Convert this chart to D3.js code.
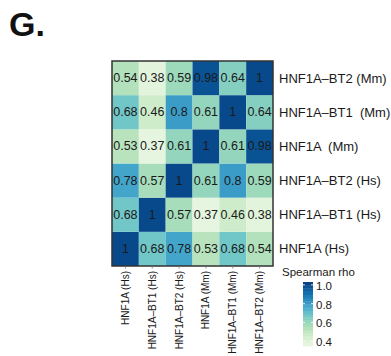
<!DOCTYPE html>
<html>
<head>
<meta charset="utf-8">
<script src="https://cdn.jsdelivr.net/npm/d3@7"></script>
<style>
  html, body { margin: 0; padding: 0; background: #fff; }
  svg { display: block; font-family: "Liberation Sans", Arial, sans-serif; }
</style>
</head>
<body>
<svg id="chart" width="391" height="356"></svg>
<script>
// Sample labels (same order on both axes; rows drawn bottom-to-top)
const colLabels = ["HNF1A (Hs)", "HNF1A\u2013BT1 (Hs)", "HNF1A\u2013BT2 (Hs)", "HNF1A (Mm)", "HNF1A\u2013BT1 (Mm)", "HNF1A\u2013BT2 (Mm)"];
const rowLabels = ["HNF1A (Hs)", "HNF1A\u2013BT1 (Hs)", "HNF1A\u2013BT2 (Hs)", "HNF1A  (Mm)", "HNF1A\u2013BT1  (Mm)", "HNF1A\u2013BT2 (Mm)"];

// Spearman rho per row (row label order), values across columns
const rhoHNF1AHs    = [1, 0.68, 0.78, 0.53, 0.68, 0.54];
const rhoBT1Hs      = [0.68, 1, 0.57, 0.37, 0.46, 0.38];
const rhoBT2Hs      = [0.78, 0.57, 1, 0.61, 0.8, 0.59];
const rhoHNF1AMm    = [0.53, 0.37, 0.61, 1, 0.61, 0.98];
const rhoBT1Mm      = [0.68, 0.46, 0.8, 0.61, 1, 0.64];
const rhoBT2Mm      = [0.54, 0.38, 0.59, 0.98, 0.64, 1];
const rhoRows = [rhoHNF1AHs, rhoBT1Hs, rhoBT2Hs, rhoHNF1AMm, rhoBT1Mm, rhoBT2Mm];

const legendTicks = [0.4, 0.6, 0.8, 1.0];
const colorDomain = [0.30, 1.02];
const legendExtent = [0.35, 1.03];

const svg = d3.select("#chart");

// panel letter
svg.append("text")
  .attr("x", 9).attr("y", 36)
  .attr("font-size", 34).attr("font-weight", "bold")
  .attr("fill", "#111")
  .text("G.");

const grid = { left: 112, right: 273, top: 61, bottom: 266 };

const x = d3.scaleBand().domain(colLabels).range([grid.left, grid.right]);
const y = d3.scaleBand().domain(rowLabels).range([grid.bottom, grid.top]);
const color = d3.scaleSequential(d3.interpolateGnBu).domain(colorDomain).clamp(true);

const cells = [];
rhoRows.forEach((vals, r) => {
  vals.forEach((v, c) => cells.push({ row: rowLabels[r], col: colLabels[c], v }));
});

svg.append("g").selectAll("rect")
  .data(cells).join("rect")
  .attr("x", d => x(d.col))
  .attr("y", d => y(d.row))
  .attr("width", x.bandwidth())
  .attr("height", y.bandwidth())
  .attr("fill", d => color(d.v));

svg.append("g").selectAll("text")
  .data(cells).join("text")
  .attr("x", d => x(d.col) + x.bandwidth() / 2)
  .attr("y", d => y(d.row) + y.bandwidth() / 2)
  .attr("text-anchor", "middle")
  .attr("dominant-baseline", "central")
  .attr("font-size", 12.5)
  .attr("fill", "#1a1a1a")
  .text(d => d.v);

// panel border
svg.append("rect")
  .attr("x", grid.left).attr("y", grid.top)
  .attr("width", grid.right - grid.left)
  .attr("height", grid.bottom - grid.top)
  .attr("fill", "none")
  .attr("stroke", "#333")
  .attr("stroke-width", 1.5);

// right-hand row labels
svg.append("g").selectAll("text")
  .data(rowLabels).join("text")
  .attr("x", grid.right + 6)
  .attr("y", d => y(d) + y.bandwidth() / 2)
  .attr("dominant-baseline", "central")
  .attr("font-size", 13)
  .attr("fill", "#1a1a1a")
  .style("white-space", "pre")
  .text(d => d);

// bottom axis: rotated labels with small ticks
const xAxis = d3.axisBottom(x).tickSize(2.5).tickPadding(2);
const gx = svg.append("g")
  .attr("transform", `translate(0,${grid.bottom})`)
  .call(xAxis);
gx.attr("font-family", "'Liberation Sans', Arial, sans-serif");
gx.select(".domain").remove();
gx.selectAll(".tick line").attr("stroke", "#777").attr("stroke-width", 0.8);
gx.selectAll(".tick text")
  .attr("font-size", 10)
  .attr("fill", "#1a1a1a")
  .attr("transform", "rotate(-90)")
  .attr("text-anchor", "end")
  .attr("dy", "0.35em")
  .attr("x", -5)
  .attr("y", 0);

// colour legend
const legend = { x: 303, w: 10, top: 282, bottom: 346 };
svg.append("text")
  .attr("x", 282).attr("y", 276)
  .attr("font-size", 11.5)
  .attr("fill", "#1a1a1a")
  .text("Spearman rho");

const ly = d3.scaleLinear().domain(legendExtent).range([legend.bottom, legend.top]);
const nBins = 20;
const step = (legendExtent[1] - legendExtent[0]) / nBins;
const bins = d3.range(nBins).map(i => legendExtent[0] + i * step);
svg.append("g").selectAll("rect")
  .data(bins).join("rect")
  .attr("x", legend.x)
  .attr("y", d => ly(d + step))
  .attr("width", legend.w)
  .attr("height", d => ly(d) - ly(d + step) + 0.3)
  .attr("fill", d => color(d + step / 2));

const lt = svg.append("g").selectAll("g").data(legendTicks).join("g");
lt.append("line")
  .attr("x1", legend.x).attr("x2", legend.x + 2)
  .attr("y1", d => ly(d)).attr("y2", d => ly(d))
  .attr("stroke", "#fff").attr("stroke-width", 0.8);
lt.append("line")
  .attr("x1", legend.x + legend.w - 2).attr("x2", legend.x + legend.w)
  .attr("y1", d => ly(d)).attr("y2", d => ly(d))
  .attr("stroke", "#fff").attr("stroke-width", 0.8);
lt.append("text")
  .attr("x", legend.x + legend.w + 3)
  .attr("y", d => ly(d) + 1)
  .attr("dominant-baseline", "central")
  .attr("font-size", 11.5)
  .attr("fill", "#1a1a1a")
  .text(d => d3.format(".1f")(d));
</script>
</body>
</html>
